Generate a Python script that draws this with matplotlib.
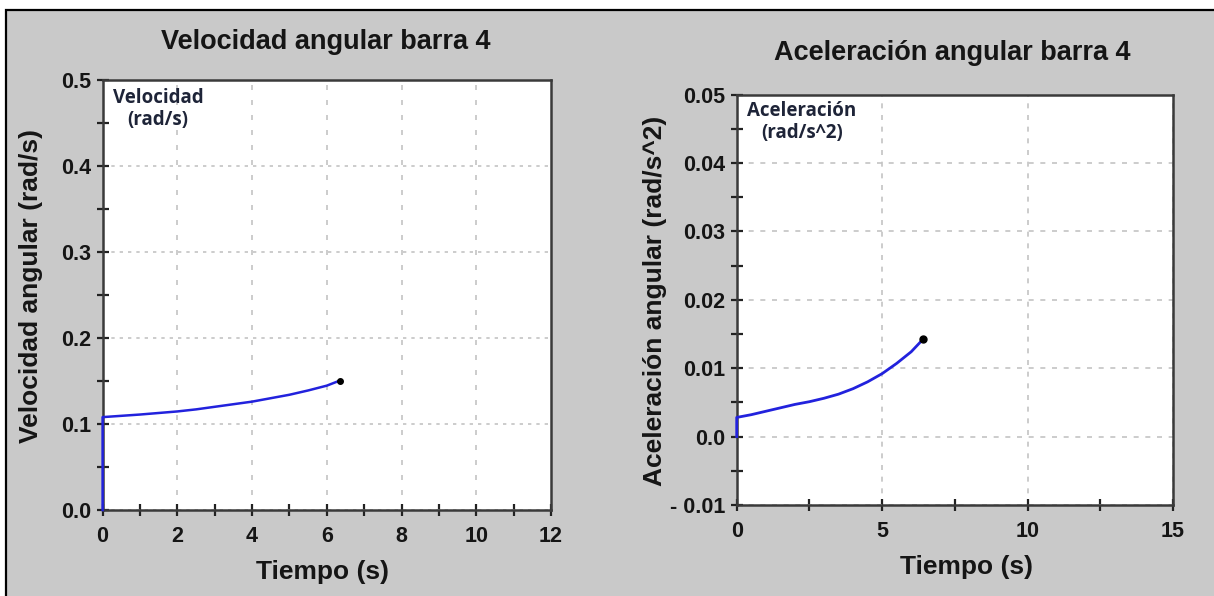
import matplotlib
matplotlib.use("Agg")
import matplotlib.pyplot as plt
from matplotlib.patches import Rectangle
from matplotlib.ticker import MultipleLocator, FixedLocator

# ---- data ----
vel_t = [0, 0, 0.5, 1, 1.5, 2, 2.5, 3, 3.5, 4, 4.5, 5, 5.5, 6, 6.35]
vel_w = [0, 0.108, 0.1095, 0.111, 0.1128, 0.1146, 0.117, 0.120, 0.123, 0.126, 0.130, 0.134, 0.139, 0.1446, 0.1505]

acc_t = [0, 0, 0.5, 1, 1.5, 2, 2.5, 3, 3.5, 4, 4.5, 5, 5.5, 6, 6.4]
acc_a = [0, 0.0028, 0.0032, 0.0037, 0.0042, 0.0047, 0.0051, 0.0056, 0.0062, 0.0070, 0.0080, 0.0092, 0.0107, 0.0124, 0.0142]

vel_yticks = [0.0, 0.1, 0.2, 0.3, 0.4, 0.5]
vel_yticklabels = ["0.0", "0.1", "0.2", "0.3", "0.4", "0.5"]
vel_xticks = [0, 2, 4, 6, 8, 10, 12]
acc_yticks = [-0.01, 0.0, 0.01, 0.02, 0.03, 0.04, 0.05]
acc_yticklabels = ["- 0.01", "0.0", "0.01", "0.02", "0.03", "0.04", "0.05"]
acc_xticks = [0, 5, 10, 15]

W, H = 1214, 596
fig = plt.figure(figsize=(W / 100, H / 100), dpi=100, facecolor="white")

# gray panel with black border
fig.patches.append(Rectangle((6 / W, -0.05), 1.1, (H - 10) / H + 0.05,
                             transform=fig.transFigure, facecolor="#c9c9c9",
                             edgecolor="black", linewidth=1.6, zorder=-10))

FONT = "Liberation Sans"
TXT = "#151515"
SPINE = "#3a3a3a"
GRID = "#c4c4c4"
NOTE = "#1e2438"


def px_axes(x0, x1, ytop, ybot):
    return fig.add_axes([x0 / W, (H - ybot) / H, (x1 - x0) / W, (ybot - ytop) / H])


def style(ax, grid_ls):
    ax.set_facecolor("white")
    for s in ax.spines.values():
        s.set_color(SPINE)
        s.set_linewidth(1.8)
    ax.tick_params(which="both", direction="inout", length=9, width=1.6,
                   color="#222222", top=False, right=False)
    ax.tick_params(axis="x", which="both", pad=7)
    ax.tick_params(axis="y", which="both", pad=4)
    ax.grid(True, which="major", color=GRID, linestyle=grid_ls, linewidth=1.2)
    ax.set_axisbelow(True)
    for lab in ax.get_xticklabels() + ax.get_yticklabels():
        lab.set_fontfamily(FONT)
        lab.set_fontweight("bold")
        lab.set_fontsize(15.5)
        lab.set_color(TXT)


# ---------- left: velocity ----------
ax1 = px_axes(102.6, 551, 80, 510)
ax1.plot(vel_t, vel_w, color="#2222dd", linewidth=1.8, zorder=5, clip_on=False)
ax1.plot([vel_t[-1]], [vel_w[-1]], "o", color="black", markersize=4, zorder=6)
ax1.set_xlim(0, 12)
ax1.set_ylim(0, 0.5)
ax1.xaxis.set_major_locator(FixedLocator(vel_xticks))
ax1.xaxis.set_minor_locator(MultipleLocator(1))
ax1.set_yticks(vel_yticks)
ax1.set_yticklabels(vel_yticklabels)
ax1.yaxis.set_minor_locator(MultipleLocator(0.05))
style(ax1, (0, (2, 3)))
ax1.grid(False, axis="x")
for xv in vel_xticks[1:-1]:
    ax1.axvline(xv, color=GRID, linestyle=(0, (3, 6)), linewidth=1.2, zorder=0.5)
ax1.set_title("Velocidad angular barra 4", fontfamily=FONT, fontweight="bold",
              fontsize=19.5, color=TXT, y=(510 - 42) / 430, va="center",
              x=(326 - 102.6) / 448.4, pad=0)
ax1.set_xlabel("Tiempo (s)", fontfamily=FONT, fontweight="bold", fontsize=19, color=TXT, va="center")
ax1.xaxis.set_label_coords((322.7 - 102.6) / 448.4, (510 - 571.7) / 430)
ax1.set_ylabel("Velocidad angular (rad/s)", fontfamily=FONT, fontweight="bold", fontsize=19,
               color=TXT, va="center")
ax1.yaxis.set_label_coords((31 - 102.6) / 448.4, (510 - 286) / 430)
ax1.text((158 - 102.6) / 448.4, (510 - 88) / 430, "Velocidad\n(rad/s)", transform=ax1.transAxes,
         ha="center", va="top", multialignment="center", fontfamily="Open Sans",
         fontweight="bold", fontsize=13.5, color=NOTE, linespacing=1.1)

# ---------- right: acceleration ----------
ax2 = px_axes(736.7, 1173, 94.5, 505)
ax2.plot(acc_t, acc_a, color="#2222dd", linewidth=2.0, zorder=5, clip_on=False)
ax2.plot([acc_t[-1]], [acc_a[-1]], "o", color="black", markersize=5, zorder=6)
ax2.set_xlim(0, 15)
ax2.set_ylim(-0.01, 0.05)
ax2.xaxis.set_major_locator(FixedLocator(acc_xticks))
ax2.xaxis.set_minor_locator(MultipleLocator(2.5))
ax2.set_yticks(acc_yticks)
ax2.set_yticklabels(acc_yticklabels)
ax2.yaxis.set_minor_locator(MultipleLocator(0.005))
style(ax2, (0, (3, 4)))
ax2.set_title("Aceleración angular barra 4", fontfamily=FONT, fontweight="bold",
              fontsize=19.5, color=TXT, y=(505 - 53) / 410.5, va="center",
              x=(952.6 - 736.7) / 436.3, pad=0)
ax2.set_xlabel("Tiempo (s)", fontfamily=FONT, fontweight="bold", fontsize=19, color=TXT, va="center")
ax2.xaxis.set_label_coords((967 - 736.7) / 436.3, (505 - 566.7) / 410.5)
ax2.set_ylabel("Aceleración angular (rad/s^2)", fontfamily=FONT, fontweight="bold", fontsize=19,
               color=TXT, va="center")
ax2.yaxis.set_label_coords((655 - 736.7) / 436.3, (505 - 301) / 410.5)
ax2.text((802 - 736.7) / 436.3, (505 - 101) / 410.5, "Aceleración\n(rad/s^2)", transform=ax2.transAxes,
         ha="center", va="top", multialignment="center", fontfamily="Open Sans",
         fontweight="bold", fontsize=13.5, color=NOTE, linespacing=1.1)

fig.savefig("out.png", dpi=100, facecolor="white")
